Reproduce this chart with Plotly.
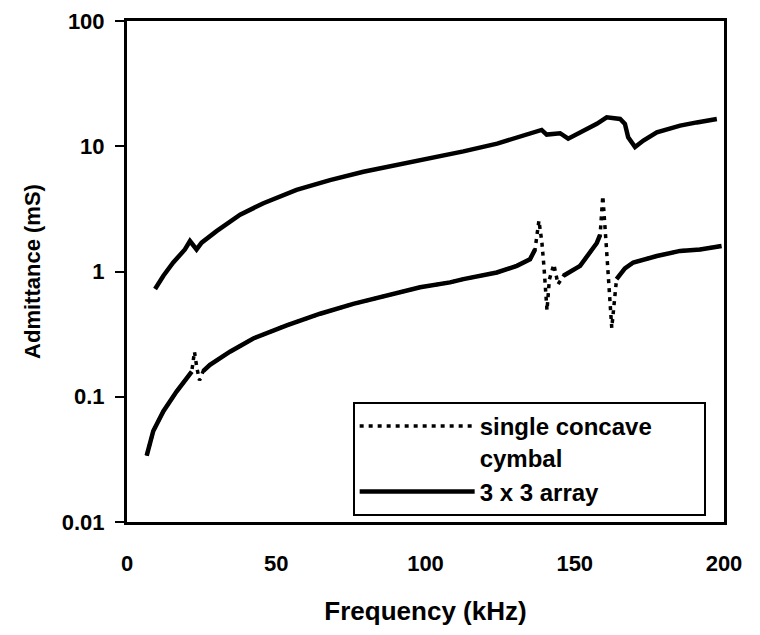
import plotly.graph_objects as go

# 3 x 3 array (solid)
freq_array = [9.4, 12.2, 15.5, 19.4, 21.1, 23.3, 25.0, 30.0, 37.9, 45.7, 56.8, 68.0, 79.2,
              90.4, 101.5, 107.1, 112.7, 124.0, 132.8, 138.9, 140.6, 145.1, 147.8, 152.9,
              157.4, 160.7, 165.2, 166.8, 167.9, 170.2, 173.0, 177.5, 185.3, 190.9, 197.6]
adm_array = [0.725, 0.925, 1.18, 1.50, 1.75, 1.50, 1.70, 2.10, 2.84, 3.51, 4.48, 5.37, 6.25,
             7.05, 8.0, 8.5, 9.1, 10.5, 12.2, 13.5, 12.4, 12.7, 11.5, 13.3,
             15.1, 17.0, 16.5, 15.1, 11.8, 9.86, 11.1, 12.9, 14.6, 15.5, 16.5]

# single concave cymbal (dotted)
freq_single = [6.6, 8.8, 12.2, 16.6, 21.7, 22.6, 23.4, 24.3, 25.5, 27.8, 34.5, 42.3, 53.5,
               64.7, 75.8, 87.0, 98.2, 108.2, 112.7, 123.9, 130.6, 135.0, 136.7, 138.0,
               139.0, 139.7, 140.7, 141.5, 143.0, 144.4, 146.2, 151.8, 157.4, 158.5, 159.4,
               160.5, 161.5, 162.4, 164.0, 166.8, 169.6, 177.5, 185.3, 192.0, 199.2]
adm_single = [0.0339, 0.0533, 0.0767, 0.110, 0.159, 0.229, 0.17, 0.135, 0.16, 0.180, 0.229,
              0.292, 0.372, 0.460, 0.551, 0.643, 0.748, 0.819, 0.869, 0.982, 1.11, 1.25, 1.50,
              2.55, 1.70, 1.08, 0.49, 0.865, 1.14, 0.79, 0.925, 1.11, 1.69, 1.96, 4.02,
              1.69, 0.82, 0.354, 0.869, 1.06, 1.18, 1.33, 1.46, 1.50, 1.60]
# frequency spans where the single-cymbal points are far apart (appear dotted)
resonance_spans = [(22.0, 25.0), (137.5, 145.0), (159.0, 163.5)]

y_tickvals = [0.01, 0.1, 1, 10, 100]
y_ticktext = ["0.01", "0.1", "1", "10", "100"]
x_tickvals = [0, 50, 100, 150, 200]

FONT = "Liberation Sans, Arial, sans-serif"

dense_single = [None if any(a <= f <= b for a, b in resonance_spans) else v
                for f, v in zip(freq_single, adm_single)]

fig = go.Figure()
fig.add_trace(go.Scatter(x=freq_single, y=adm_single, mode="lines",
                         name="<b>single concave" + "&nbsp;" * 7 + "<br>cymbal</b>",
                         line=dict(color="black", width=3.5, dash="4px,5px")))
fig.add_trace(go.Scatter(x=freq_array, y=adm_array, mode="lines", name="<b>3 x 3 array</b>",
                         line=dict(color="black", width=4.5)))
fig.add_trace(go.Scatter(x=freq_single, y=dense_single, mode="lines", showlegend=False,
                         connectgaps=False, hoverinfo="skip",
                         line=dict(color="black", width=4.5)))

fig.update_layout(
    width=760, height=635,
    margin=dict(l=119, r=44, t=13, b=121),
    paper_bgcolor="white", plot_bgcolor="white",
    font=dict(family=FONT, size=22, color="black"),
    showlegend=True,
    legend=dict(x=0.378, y=0.012, xanchor="left", yanchor="bottom",
                bgcolor="white", bordercolor="black", borderwidth=2,
                font=dict(size=24), itemwidth=115, valign="top",
                tracegroupgap=0),
)
fig.update_xaxes(range=[0, 200], tickvals=x_tickvals, ticks="", showgrid=False,
                 zeroline=False, showline=True, linecolor="black", linewidth=3, mirror=True,
                 ticklabelstandoff=20, tickfont=dict(size=22, weight="bold"), automargin=False,
                 ticklabeloverflow="allow",
                 title=dict(text="<b>Frequency (kHz)</b>", font=dict(size=26), standoff=27))
fig.update_yaxes(type="log", range=[-2, 2], tickvals=y_tickvals, ticktext=y_ticktext,
                 ticks="outside", ticklen=9, tickwidth=2, tickcolor="black", showgrid=False,
                 zeroline=False, showline=True, linecolor="black", linewidth=3, mirror=True,
                 ticklabelstandoff=6, tickfont=dict(size=22, weight="bold"), automargin=False,
                 ticklabeloverflow="allow",
                 title=dict(text="<b>Admittance (mS)</b>", font=dict(size=22), standoff=16))

fig.write_html("out.html")
